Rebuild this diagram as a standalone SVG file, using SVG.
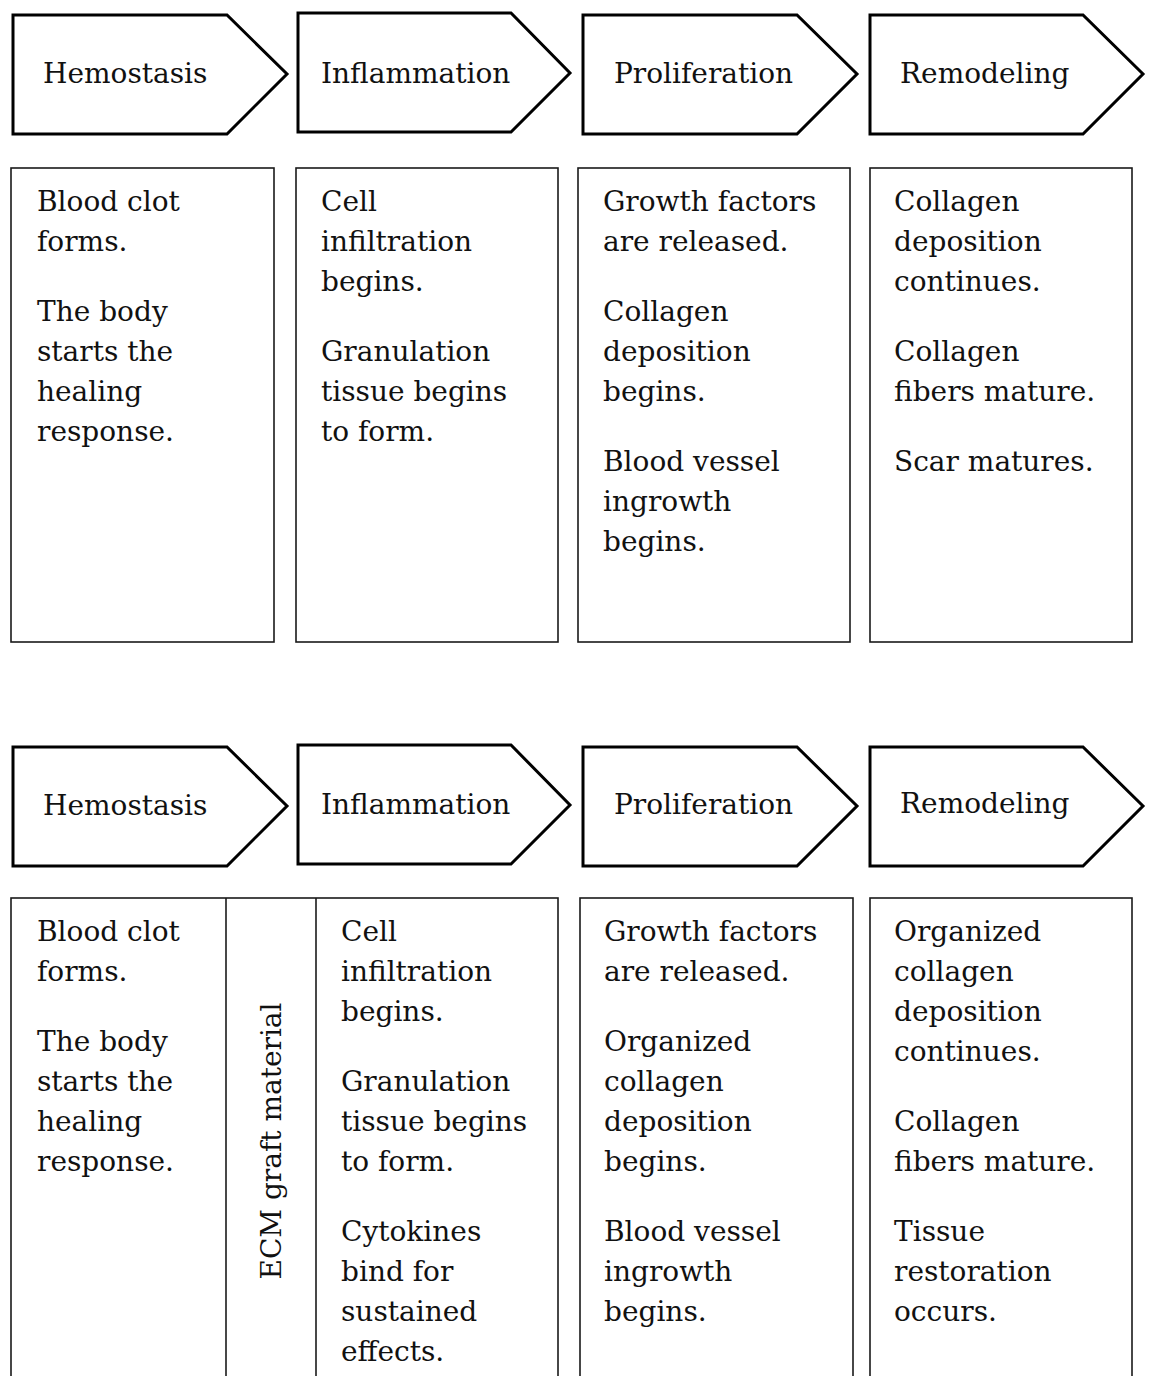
<svg xmlns="http://www.w3.org/2000/svg" width="1156" height="1376" viewBox="0 0 1156 1376">
<style>
.chev{fill:#fff;stroke:#000;stroke-width:3;stroke-linejoin:miter}
.box{fill:#fff;stroke:#1a1a1a;stroke-width:1.6}
text{font-family:"DejaVu Serif","Liberation Serif",serif;font-size:28px;fill:#111}
</style>
<rect width="1156" height="1376" fill="#fff"/>
<g id="connectors"></g>

<!-- Row 1 headers -->
<g id="h1-hemostasis"><path class="chev" d="M13,15 H227 L287,74 L227,134 H13 Z"/><text x="43" y="83">Hemostasis</text></g>
<g id="h1-inflammation"><path class="chev" d="M298,13 H511 L570,73 L511,132 H298 Z"/><text x="321" y="83">Inflammation</text></g>
<g id="h1-proliferation"><path class="chev" d="M583,15 H797 L857,74 L797,134 H583 Z"/><text x="614" y="83">Proliferation</text></g>
<g id="h1-remodeling"><path class="chev" d="M870,15 H1083 L1143,74 L1083,134 H870 Z"/><text x="900" y="83">Remodeling</text></g>

<!-- Row 1 boxes -->
<g id="b1-hemostasis"><rect class="box" x="11" y="168" width="263" height="474"/>
<text x="37" y="211">Blood clot</text><text x="37" y="251">forms.</text>
<text x="37" y="321">The body</text><text x="37" y="361">starts the</text><text x="37" y="401">healing</text><text x="37" y="441">response.</text></g>
<g id="b1-inflammation"><rect class="box" x="296" y="168" width="262" height="474"/>
<text x="321" y="211">Cell</text><text x="321" y="251">infiltration</text><text x="321" y="291">begins.</text>
<text x="321" y="361">Granulation</text><text x="321" y="401">tissue begins</text><text x="321" y="441">to form.</text></g>
<g id="b1-proliferation"><rect class="box" x="578" y="168" width="272" height="474"/>
<text x="603" y="211">Growth factors</text><text x="603" y="251">are released.</text>
<text x="603" y="321">Collagen</text><text x="603" y="361">deposition</text><text x="603" y="401">begins.</text>
<text x="603" y="471">Blood vessel</text><text x="603" y="511">ingrowth</text><text x="603" y="551">begins.</text></g>
<g id="b1-remodeling"><rect class="box" x="870" y="168" width="262" height="474"/>
<text x="894" y="211">Collagen</text><text x="894" y="251">deposition</text><text x="894" y="291">continues.</text>
<text x="894" y="361">Collagen</text><text x="894" y="401">fibers mature.</text>
<text x="894" y="471">Scar matures.</text></g>

<!-- Row 2 headers -->
<g id="h2-hemostasis"><path class="chev" d="M13,747 H227 L287,806 L227,866 H13 Z"/><text x="43" y="815">Hemostasis</text></g>
<g id="h2-inflammation"><path class="chev" d="M298,745 H511 L570,805 L511,864 H298 Z"/><text x="321" y="814">Inflammation</text></g>
<g id="h2-proliferation"><path class="chev" d="M583,747 H797 L857,806 L797,866 H583 Z"/><text x="614" y="814">Proliferation</text></g>
<g id="h2-remodeling"><path class="chev" d="M870,747 H1083 L1143,806 L1083,866 H870 Z"/><text x="900" y="813">Remodeling</text></g>

<!-- Row 2 boxes -->
<g id="b2-hemostasis"><rect class="box" x="11" y="898" width="547" height="500"/>
<line class="box" x1="226" y1="898" x2="226" y2="1380"/>
<line class="box" x1="316" y1="898" x2="316" y2="1380"/>
<text x="37" y="941">Blood clot</text><text x="37" y="981">forms.</text>
<text x="37" y="1051">The body</text><text x="37" y="1091">starts the</text><text x="37" y="1131">healing</text><text x="37" y="1171">response.</text></g>
<g id="b2-ecm"><text transform="translate(281,1141) rotate(-90)" text-anchor="middle">ECM graft material</text></g>
<g id="b2-inflammation">
<text x="341" y="941">Cell</text><text x="341" y="981">infiltration</text><text x="341" y="1021">begins.</text>
<text x="341" y="1091">Granulation</text><text x="341" y="1131">tissue begins</text><text x="341" y="1171">to form.</text>
<text x="341" y="1241">Cytokines</text><text x="341" y="1281">bind for</text><text x="341" y="1321">sustained</text><text x="341" y="1361">effects.</text></g>
<g id="b2-proliferation"><rect class="box" x="580" y="898" width="273" height="500"/>
<text x="604" y="941">Growth factors</text><text x="604" y="981">are released.</text>
<text x="604" y="1051">Organized</text><text x="604" y="1091">collagen</text><text x="604" y="1131">deposition</text><text x="604" y="1171">begins.</text>
<text x="604" y="1241">Blood vessel</text><text x="604" y="1281">ingrowth</text><text x="604" y="1321">begins.</text></g>
<g id="b2-remodeling"><rect class="box" x="870" y="898" width="262" height="500"/>
<text x="894" y="941">Organized</text><text x="894" y="981">collagen</text><text x="894" y="1021">deposition</text><text x="894" y="1061">continues.</text>
<text x="894" y="1131">Collagen</text><text x="894" y="1171">fibers mature.</text>
<text x="894" y="1241">Tissue</text><text x="894" y="1281">restoration</text><text x="894" y="1321">occurs.</text></g>
</svg>
